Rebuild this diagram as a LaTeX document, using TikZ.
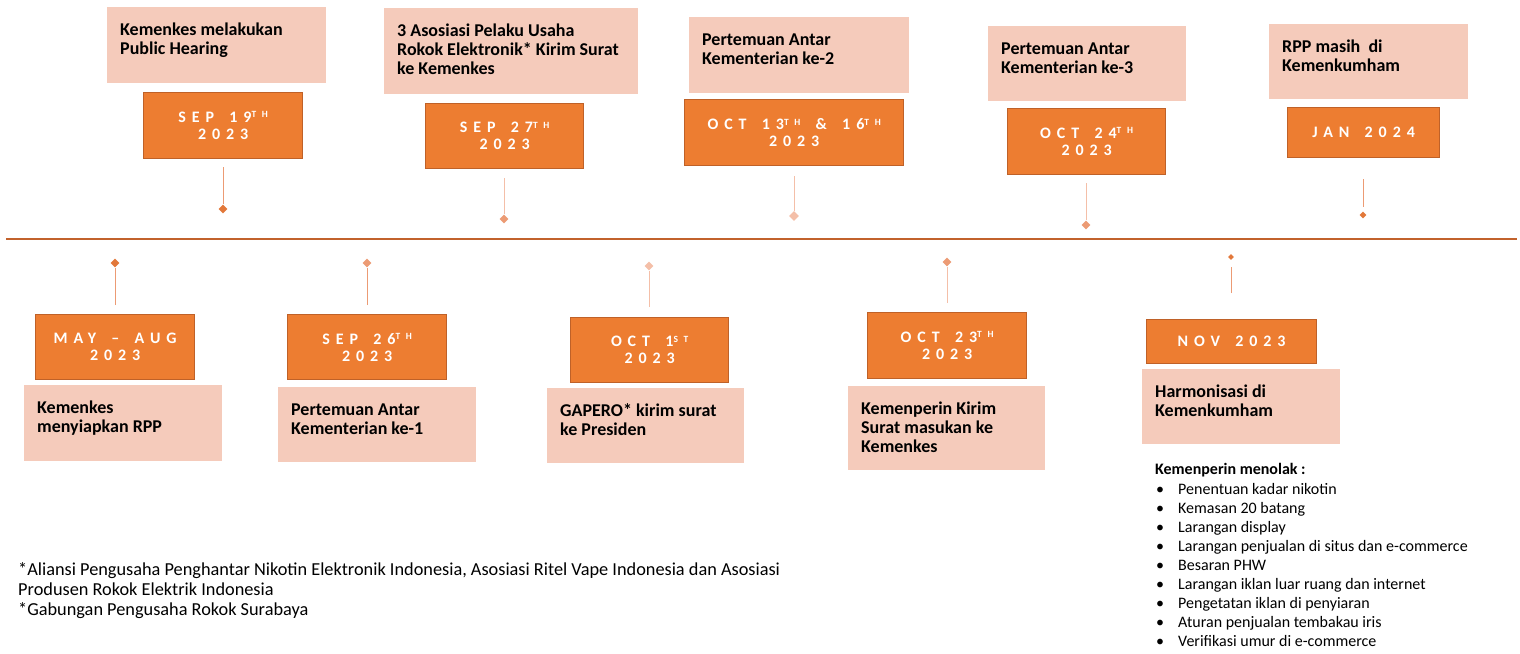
\documentclass[tikz,border=0pt]{standalone}
\usepackage{fontspec}
\setmainfont{Carlito}
\newfontfamily\datefont[LetterSpace=37,WordSpace=1.6]{Carlito}
\usetikzlibrary{shapes.geometric, positioning}

\definecolor{boxorange}{HTML}{ED7D31}
\definecolor{boxedge}{HTML}{BF6128}
\definecolor{boxpink}{HTML}{F5CBBB}
\definecolor{axisline}{HTML}{C2622C}
\definecolor{toneA}{HTML}{E2783A}
\definecolor{toneB}{HTML}{EC9B74}
\definecolor{toneC}{HTML}{F4BFA8}

\newcommand{\supx}[1]{\raisebox{4.5pt}{\addfontfeature{LetterSpace=60}\fontsize{9.5}{10}\selectfont #1}}
\newcommand{\toplines}[1]{\begin{tabular}[t]{@{}l@{}}#1\end{tabular}}

\tikzset{
  pinkbox/.style={fill=boxpink, inner sep=0pt, anchor=north west},
  pinktext/.style={anchor=base west, inner sep=0pt, font=\bfseries\fontsize{18}{19}\selectfont},
  datebox/.style={fill=boxorange, draw=boxedge, line width=1.3pt, inner sep=0pt, anchor=north west,
    align=center, text=white, font=\datefont\bfseries\fontsize{16}{17}\selectfont},
  losange/.style={diamond, aspect=1, inner sep=0pt},
  listtext/.style={anchor=base west, inner sep=0pt, font=\fontsize{16}{19}\selectfont},
  notetext/.style={anchor=base west, inner sep=0pt, font=\fontsize{18.3}{20.3}\selectfont}
}

\begin{document}
\begin{tikzpicture}[x=1pt,y=-1pt]
    \useasboundingbox (0,0) rectangle (1520,653);

    % garis waktu
    \coordinate (axl) at (6,239);
    \coordinate (axr) at (1517,239);
    \draw[axisline, line width=1.6pt] (axl) -- (axr);

    % tangkai dan belah ketupat (atas: t1..t5, bawah: b1..b5)
    \foreach \n/\x/\ya/\yd/\s/\cl/\cd/\g in {
        t1/223/167/209/9/toneB/toneA/0, t2/504/178/219/9/toneC/toneB/0,
        t3/794/176/216/10/toneC/toneC/0, t4/1086/183/225/9/toneC/toneB/0,
        t5/1363/179/215/7/toneB/toneA/4,
        b1/115/305/263/9/toneB/toneA/0, b2/367/305/263/9/toneB/toneB/0,
        b3/649/307/266/9/toneC/toneC/0, b4/947/303/262/9/toneC/toneB/0,
        b5/1231/293/257/6/toneB/toneA/7}{
        \node[losange, fill=\cd, minimum size=\s pt] (mk\n) at (\x,\yd) {};
        \coordinate (st\n) at (\x,\ya);
        \draw[\cl, line width=1pt, shorten >=\g pt] (st\n) -- (mk\n);
    }

    % kotak keterangan
    \foreach \n/\x/\y/\w/\h/\t in {
        t1/107/7/219/76/{Kemenkes melakukan\\Public Hearing},
        t2/384/8/254/86/{3 Asosiasi Pelaku Usaha\\Rokok Elektronik* Kirim Surat\\ke Kemenkes},
        t3/689/17/220/76/{Pertemuan Antar\\Kementerian ke-2},
        t4/988/26/198/75/{Pertemuan Antar\\Kementerian ke-3},
        t5/1269/24/199/75/{RPP masih\ \ di\\Kemenkumham},
        b1/24/385/198/76/{Kemenkes\\menyiapkan RPP},
        b2/278/387/198/75/{Pertemuan Antar\\Kementerian ke-1},
        b3/547/388/197/75/{GAPERO* kirim surat\\ke Presiden},
        b4/848/386/197/84/{Kemenperin Kirim\\Surat masukan ke\\Kemenkes},
        b5/1142/369/198/75/{Harmonisasi di\\Kemenkumham}}{
        \node[pinkbox, minimum width=\w pt, minimum height=\h pt] (ev\n) at (\x,\y) {};
        \node[pinktext] (tx\n) at ([shift={(13,28)}]ev\n.north west) {\toplines{\t}};
    }

    % kotak tanggal
    \node[datebox, minimum width=159pt, minimum height=66pt] (dtt1) at (143,92) {SEP 19\supx{TH}\\2023};
    \node[datebox, minimum width=158pt, minimum height=65pt] (dtt2) at (425,103) {SEP 27\supx{TH}\\2023};
    \node[datebox, minimum width=219pt, minimum height=66pt] (dtt3) at (684,99) {OCT 13\supx{TH} \& 16\supx{TH}\\2023};
    \node[datebox, minimum width=158pt, minimum height=66pt] (dtt4) at (1007,108) {OCT 24\supx{TH}\\2023};
    \node[datebox, minimum width=152pt, minimum height=50pt] (dtt5) at (1287,107) {JAN 2024};
    \node[datebox, minimum width=159pt, minimum height=65pt] (dtb1) at (35,314) {MAY – AUG\\2023};
    \node[datebox, minimum width=159pt, minimum height=65pt] (dtb2) at (287,314) {SEP 26\supx{TH}\\2023};
    \node[datebox, minimum width=158pt, minimum height=65pt] (dtb3) at (570,317) {OCT 1\supx{ST}\\2023};
    \node[datebox, minimum width=159pt, minimum height=66pt] (dtb4) at (867,312) {OCT 23\supx{TH}\\2023};
    \node[datebox, minimum width=170pt, minimum height=44pt] (dtb5) at (1146,319) {NOV 2023};

    % daftar penolakan
    \node[listtext, font=\bfseries\fontsize{16}{19}\selectfont] (tolak) at (1155,474) {Kemenperin menolak :};
    \foreach \i/\t in {0/Penentuan kadar nikotin, 1/Kemasan 20 batang, 2/Larangan display,
        3/Larangan penjualan di situs dan e-commerce, 4/Besaran PHW,
        5/Larangan iklan luar ruang dan internet, 6/Pengetatan iklan di penyiaran,
        7/Aturan penjualan tembakau iris, 8/Verifikasi umur di e-commerce}{
        \node[listtext] (bl\i) at (1156,{494+19.1*\i}) {\textbullet};
        \node[listtext] (it\i) at (1178,{494+19.1*\i}) {\t};
    }

    % catatan kaki
    \node[notetext] (note) at (18,575) {\toplines{*Aliansi Pengusaha Penghantar Nikotin Elektronik Indonesia, Asosiasi Ritel Vape Indonesia dan Asosiasi\\
        Produsen Rokok Elektrik Indonesia\\{}*Gabungan Pengusaha Rokok Surabaya}};
\end{tikzpicture}
\end{document}
